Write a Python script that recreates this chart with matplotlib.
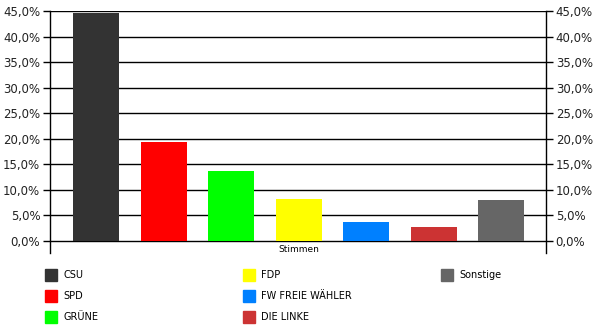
import matplotlib
matplotlib.use("Agg")
import matplotlib.pyplot as plt
from matplotlib.patches import Rectangle
from matplotlib.ticker import FuncFormatter

# vote shares, percent
parties = ["CSU", "SPD", "GRÜNE", "FDP", "FW FREIE WÄHLER", "DIE LINKE", "Sonstige"]
shares = [44.6, 19.4, 13.7, 8.2, 3.7, 2.7, 8.0]
colors = ["#333333", "#ff0000", "#00ff00", "#ffff00", "#0080ff", "#cc3333", "#666666"]
yticks = [0, 5, 10, 15, 20, 25, 30, 35, 40, 45]
category = "Stimmen"

plt.rcParams["font.family"] = ["DejaVu Sans"]

W, H = 600, 333
fig = plt.figure(figsize=(W / 100, H / 100), dpi=100)
ax = fig.add_axes([50 / W, 1 - 253 / H, 496 / W, 242 / H])

xs = list(range(len(parties)))
ax.bar(xs, shares, width=0.68, color=colors, zorder=3)
ax.set_xlim(-0.68, 6.66)
ax.set_ylim(-2.35, 45)

for y in yticks:
    ax.axhline(y, color="black", lw=1, zorder=1)

fmt = FuncFormatter(lambda v, _: f"{v:.1f}%".replace(".", ","))
ax.set_yticks(yticks)
ax.yaxis.set_major_formatter(fmt)
ax.tick_params(axis="y", length=5, width=1, labelsize=8.5, labelcolor="#222",
               left=True, right=True, labelleft=True, labelright=True, pad=2)
ax.set_xticks([])
for s in ["top", "bottom"]:
    ax.spines[s].set_visible(False)
for s in ["left", "right"]:
    ax.spines[s].set_linewidth(1)

ax.text(3, -1.75, category, ha="center", va="center", fontsize=6.5)

# legend, three columns laid out like the original
col_x = [45, 243, 441]
row_y = [275, 296, 317]
for i, (name, c) in enumerate(zip(parties, colors)):
    cx = col_x[i // 3]
    cy = row_y[i % 3]
    fig.add_artist(Rectangle((cx / W, 1 - (cy + 6) / H), 12 / W, 12 / H,
                             transform=fig.transFigure, color=c))
    fig.text((cx + 18) / W, 1 - cy / H, name, ha="left", va="center", fontsize=7)

fig.savefig("out.png", dpi=100)
